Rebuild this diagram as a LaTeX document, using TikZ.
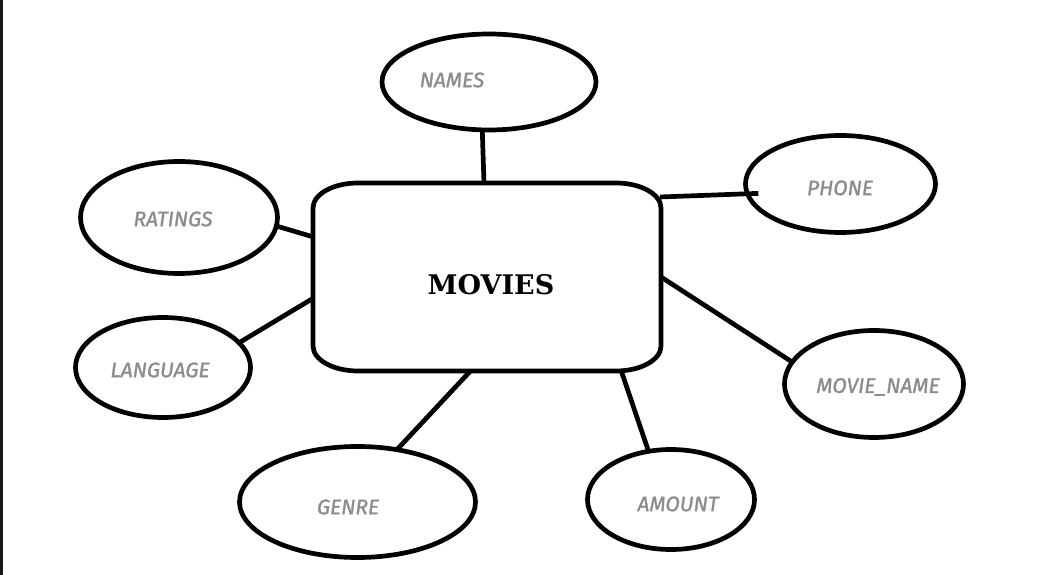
\documentclass[tikz,border=0pt]{standalone}
\usepackage{fontspec}
\usetikzlibrary{shapes.geometric,calc}
\newfontfamily\lblfont{Fira Sans}[ItalicFeatures={FakeBold=1.3}]
\newfontfamily\titlefont{DejaVu Serif}
\definecolor{lblgray}{HTML}{8C8C8C}
\definecolor{edgedark}{HTML}{16181D}
\tikzset{
  attr/.style={ellipse, draw=black, line width=4.7pt, inner sep=0pt, outer sep=0pt, fill=white},
  lbl/.style={text=lblgray, font=\lblfont\itshape\fontsize{21}{21}\selectfont, inner sep=0pt},
  title/.style={text=black, font=\titlefont\bfseries\fontsize{27}{27}\selectfont, inner sep=0pt},
  link/.style={draw=black, line width=4.7pt},
  boxline/.style={draw=black, line width=4.7pt}
}
\begin{document}
\begin{tikzpicture}[x=1pt,y=1pt]
\useasboundingbox (0,0) rectangle (1039,575);
\fill[white] (0,0) rectangle (1039,575);
\fill[edgedark] (0,0) rectangle (3,575);

% central entity
\node[minimum width=348pt, minimum height=188pt, inner sep=0pt, outer sep=0pt] (movies) at (487,298) {};
\draw[boxline] ($(movies.north west)+(45,0)$) -- ($(movies.north east)+(-45,0)$)
  arc[start angle=90, end angle=0, x radius=45, y radius=25]
  -- ($(movies.south east)+(0,25)$)
  arc[start angle=0, end angle=-90, x radius=45, y radius=25]
  -- ($(movies.south west)+(45,0)$)
  arc[start angle=270, end angle=180, x radius=45, y radius=25]
  -- ($(movies.north west)+(0,-25)$)
  arc[start angle=180, end angle=90, x radius=45, y radius=25] -- cycle;
\node[title] (moviesT) at (491,290) {MOVIES};

% attributes
\node[attr, minimum width=214pt, minimum height=96pt] (names) at (489,493) {};
\node[attr, minimum width=190pt, minimum height=97pt] (phone) at (840.5,391) {};
\node[attr, minimum width=197pt, minimum height=112pt] (ratings) at (179,357.5) {};
\node[attr, minimum width=175pt, minimum height=100pt] (language) at (163,207.5) {};
\node[attr, minimum width=236pt, minimum height=111pt] (genre) at (357.5,73) {};
\node[attr, minimum width=167pt, minimum height=100pt] (amount) at (671,75.5) {};
\node[attr, minimum width=179pt, minimum height=107pt] (mname) at (874,191) {};

\node[lbl] (namesT) at (452,495) {NAMES};
\node[lbl] (phoneT) at (840,387) {PHONE};
\node[lbl] (ratingsT) at (173,356) {RATINGS};
\node[lbl] (languageT) at (160,205) {LANGUAGE};
\node[lbl] (genreT) at (348,68) {GENRE};
\node[lbl] (amountT) at (678,71) {AMOUNT};
\node[lbl] (mnameT) at (878,188) {MOVIE\_NAME};

% connectors
\coordinate (phoneAt) at ($(movies.north east)+(-1,-14)$);
\draw[link] (names.262) -- ($(movies.north)+(-3,0)$);
\draw[link, shorten >=-11pt] (phoneAt) -- (phone.186);
\draw[link] (ratings.-5) -- (movies.167);
\draw[link] (language.18) -- (movies.187);
\draw[link] (mname.165) -- (movies.east);
\draw[link] (genre.53) -- (movies.260);
\draw[link] (amount.115) -- (movies.-35);
\end{tikzpicture}
\end{document}
